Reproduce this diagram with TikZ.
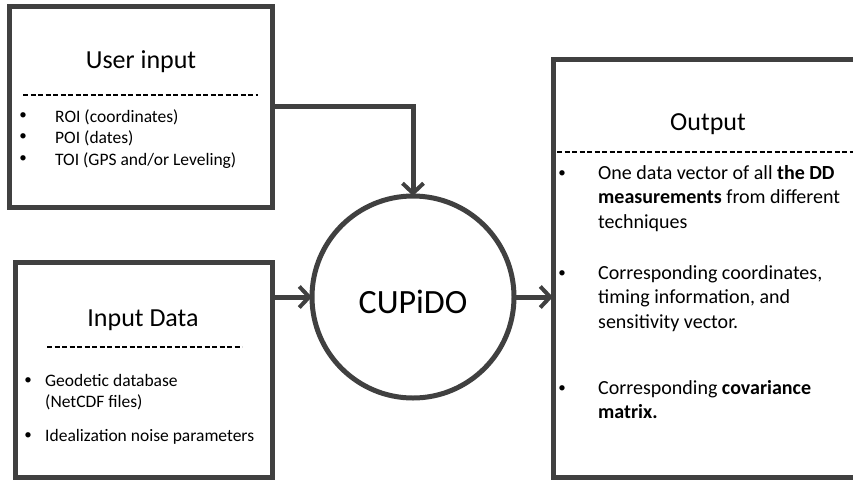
\documentclass[tikz,border=0pt]{standalone}
\usepackage{fontspec}
\setmainfont{Carlito}
\usetikzlibrary{arrows.meta}
\usepackage{xcolor}
\definecolor{linegray}{HTML}{404040}

\begin{document}
\begin{tikzpicture}[x=1pt, y=-1pt,
  box/.style={draw=linegray, line width=5pt, rectangle, outer sep=0pt, inner sep=0pt},
  arr/.style={draw=linegray, line width=5pt, -{Straight Barb[length=10pt, width=21pt, line width=4pt]}},
  head/.style={font=\fontsize{26}{31}\selectfont, inner sep=0pt},
  item/.style={anchor=north west, align=left, inner sep=0pt, font=\fontsize{17.5}{21.5}\selectfont},
  bigitem/.style={anchor=north west, align=left, inner sep=0pt, font=\fontsize{20}{24.5}\selectfont},
  dot/.style={font=\fontsize{15}{17}\selectfont, inner sep=0pt, yshift=4pt},
  sep/.style={line width=1.2pt, dash pattern=on 5pt off 2.5pt}]
\useasboundingbox (0,0) rectangle (853,480);
\clip (0,0) rectangle (853,480);

% boxes and circle
\node[box, minimum width=263, minimum height=201] (user) at (140.5,106.5) {};
\node[box, minimum width=257, minimum height=215] (input) at (143.5,369.5) {};
\node[box, minimum width=347, minimum height=418] (output) at (726.5,268) {};
\node[draw=linegray, line width=5pt, circle, minimum size=202, outer sep=0pt, inner sep=0pt] (cupido) at (413,297) {};
\node[font=\fontsize{34}{40}\selectfont, yshift=-5pt] (cupidotext) at (cupido) {CUPiDO};

% user input
\node[head] (usertitle) at (141,62) {User input};
\draw[sep] (23,95) -- (258,95);
\node[item] (roi) at (55,109) {ROI (coordinates)\\POI (dates)\\TOI (GPS and/or Leveling)};
\foreach \y in {120,141.5,163} \node[dot] at (23,\y) {\textbullet};

% input data
\node[head] (inputtitle) at (143,320) {Input Data};
\draw[sep] (47,347) -- (242,347);
\node[item] (geo) at (45,374) {Geodetic database\\(NetCDF files)};
\node[item] (noise) at (45,429) {Idealization noise parameters};
\foreach \y in {385,440} \node[dot] at (28,\y) {\textbullet};

% output
\node[head] (outputtitle) at (708,124) {Output};
\draw[sep] (557,152) -- (860,152);
\node[bigitem] (vec) at (598,165) {One data vector of all \textbf{the DD}\\\textbf{measurements} from different\\techniques};
\node[bigitem] (coord) at (598,265) {Corresponding coordinates,\\timing information, and\\sensitivity vector.};
\node[bigitem] (cov) at (598,380) {Corresponding \textbf{covariance}\\\textbf{matrix.}};
\foreach \y in {178,278,393} \node[dot] at (562,\y) {\textbullet};

% connectors
\draw[arr] (user.east) -| (cupido.north);
\draw[arr] (input.east |- cupido.west) -- (cupido.west);
\draw[arr] (cupido.east) -- (cupido.east -| output.west);
\end{tikzpicture}
\end{document}
